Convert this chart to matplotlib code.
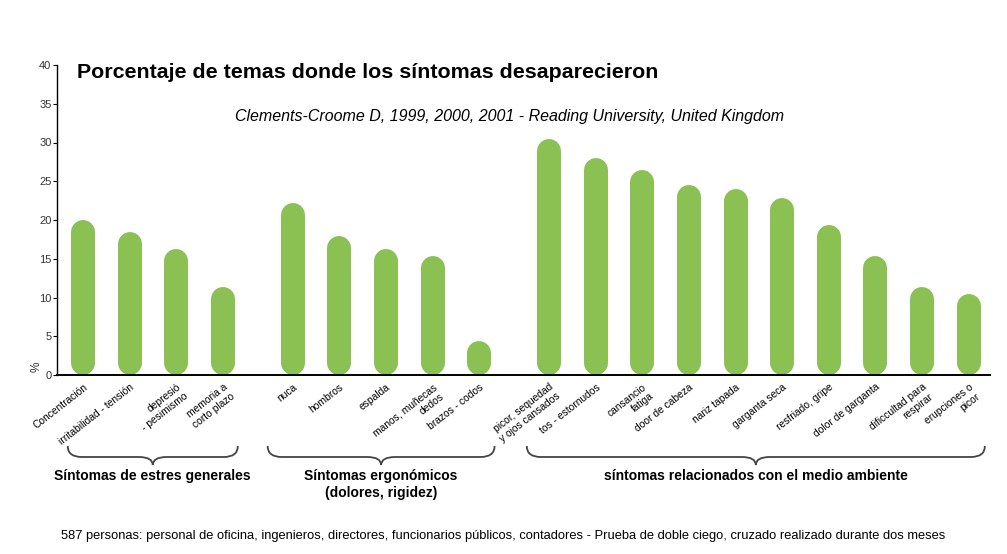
import matplotlib
matplotlib.use('Agg')
import matplotlib.pyplot as plt
from matplotlib.path import Path
from matplotlib.patches import PathPatch
from matplotlib.transforms import blended_transform_factory

plt.rcParams['font.family'] = ['Liberation Sans', 'DejaVu Sans']

# --- data ---
labels_stress = ['Concentración', 'irritabilidad - tensión', 'depresió\n- pesimismo',
                 'memoria a\ncorto plazo']
values_stress = [20.0, 18.4, 16.2, 11.4]

labels_ergo = ['nuca', 'hombros', 'espalda', 'manos, muñecas\ndedos', 'brazos - codos']
values_ergo = [22.2, 17.9, 16.2, 15.4, 4.4]

labels_env = ['picor, sequedad\ny ojos cansados', 'tos - estornudos', 'cansancio\nfatiga',
              'door de cabeza', 'nariz tapada', 'garganta seca', 'resfriado, gripe',
              'dolor de garganta', 'dificcultad para\nrespirar', 'erupciones o\npicor']
values_env = [30.5, 28.0, 26.5, 24.5, 24.0, 22.9, 19.4, 15.4, 11.4, 10.5]

group_titles = ['Síntomas de estres generales', 'Síntomas ergonómicos\n(dolores, rigidez)',
                'síntomas relacionados con el medio ambiente']

GREEN = '#8bc153'

# positions: groups separated by an extra half slot
pos_stress = [0, 1, 2, 3]
pos_ergo = [4.5, 5.5, 6.5, 7.5, 8.5]
pos_env = [10 + i for i in range(10)]

positions = pos_stress + pos_ergo + pos_env
values = values_stress + values_ergo + values_env
labels = labels_stress + labels_ergo + labels_env

W, H = 1007, 554
fig = plt.figure(figsize=(W / 100, H / 100), dpi=100)
ax = fig.add_axes([57 / W, (H - 375) / H, (990 - 57) / W, (375 - 65) / H])
ax.set_xlim(-0.56, 19.46)
ax.set_ylim(0, 40)

# rounded "capsule" bars: thick lines with round caps
bar_px = 24
radius = (bar_px / 2) / (ax.get_position().height * H / 40)
for x, v in zip(positions, values):
    ax.plot([x, x], [radius, max(v - radius, radius)], color=GREEN,
            lw=bar_px * 0.72, solid_capstyle='round', clip_on=False)

for s in ('top', 'right'):
    ax.spines[s].set_visible(False)
ax.spines['left'].set_linewidth(1.0)
ax.spines['bottom'].set_linewidth(1.4)
ax.set_yticks(range(0, 41, 5))
ax.tick_params(axis='y', labelsize=8, labelcolor='#333333', length=3, width=0.8, pad=1)
ax.set_xticks(positions)
ax.set_xticklabels(labels, rotation=38, ha='right', va='top', rotation_mode='anchor',
                   fontsize=7.4, multialignment='right')
ax.tick_params(axis='x', length=0, pad=5)

ax.text(-0.022, 0.01, '%', transform=ax.transAxes, rotation=90, fontsize=8.5,
        color='#333333', ha='center', va='bottom')

fig.text(77 / W, 1 - 73 / H, 'Porcentaje de temas donde los síntomas desaparecieron',
         fontsize=15.4, fontweight='bold', ha='left', va='center')
fig.text(510 / W, 1 - 117 / H,
         'Clements-Croome D, 1999, 2000, 2001 - Reading University, United Kingdom',
         fontsize=11.5, style='italic', ha='center', va='center')


def brace(x0, x1, ytop, ymid, ybot, d=0.3):
    xm = (x0 + x1) / 2
    verts = [(x0, ytop), (x0, ymid), (x0 + d, ymid),
             (xm - d, ymid), (xm, ymid), (xm, ybot),
             (xm, ymid), (xm + d, ymid),
             (x1 - d, ymid), (x1, ymid), (x1, ytop)]
    codes = [Path.MOVETO, Path.CURVE3, Path.CURVE3,
             Path.LINETO, Path.CURVE3, Path.CURVE3,
             Path.CURVE3, Path.CURVE3,
             Path.LINETO, Path.CURVE3, Path.CURVE3]
    tr = blended_transform_factory(ax.transData, fig.transFigure)
    ax.add_patch(PathPatch(Path(verts, codes), fill=False, ec='#444444', lw=1.3,
                           transform=tr, clip_on=False))


yt, ym, yb = 1 - 446 / H, 1 - 457 / H, 1 - 465 / H
brace_spans = [(-0.33, 3.32), (3.96, 8.83), (9.52, 19.35)]
for (a, b), title in zip(brace_spans, group_titles):
    brace(a, b, yt, ym, yb)
    xc = (a + b) / 2
    ax.text(xc, 1 - 469 / H, title, transform=blended_transform_factory(ax.transData, fig.transFigure),
            fontsize=10, fontweight='bold', ha='center', va='top', linespacing=1.25)

fig.text(503 / W, 1 - 536 / H,
         '587 personas: personal de oficina, ingenieros, directores, funcionarios públicos, '
         'contadores - Prueba de doble ciego, cruzado realizado durante dos meses',
         fontsize=9.3, ha='center', va='center')

fig.savefig('out.png', dpi=100)
